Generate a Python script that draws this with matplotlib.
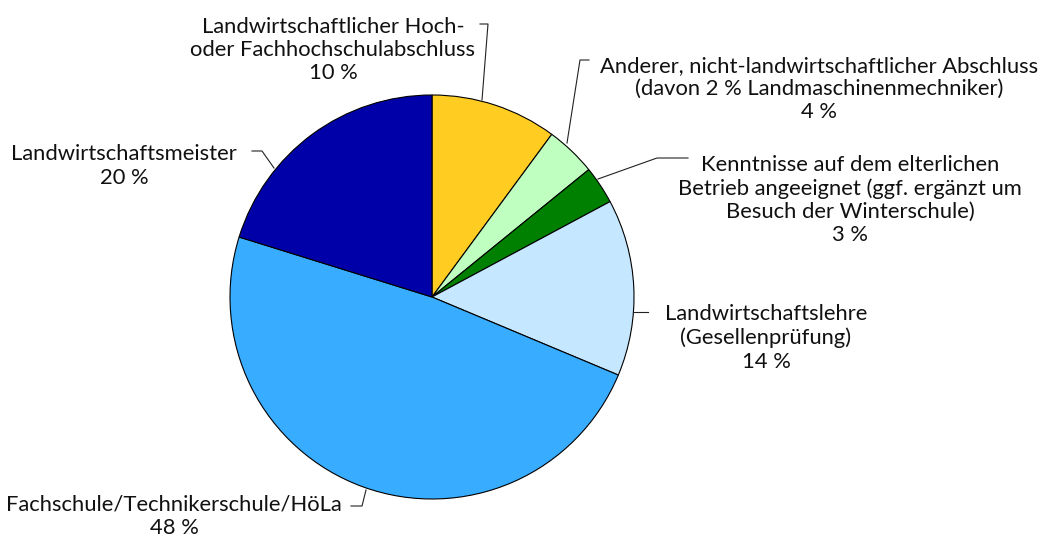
import matplotlib
matplotlib.use("Agg")
import matplotlib.pyplot as plt

# Abschlüsse der Betriebsleiter (Anteile in %)
labels = [
    "Landwirtschaftlicher Hoch-\noder Fachhochschulabschluss",
    "Anderer, nicht-landwirtschaftlicher Abschluss\n(davon 2 % Landmaschinenmechniker)",
    "Kenntnisse auf dem elterlichen\nBetrieb angeeignet (ggf. ergänzt um\nBesuch der Winterschule)",
    "Landwirtschaftslehre\n(Gesellenprüfung)",
    "Fachschule/Technikerschule/HöLa",
    "Landwirtschaftsmeister",
]
values = [10, 4, 3, 14, 48, 20]
colors = ["#FFCC22", "#BFFFBF", "#008000", "#C5E7FF", "#38ACFF", "#0000A8"]

# Beschriftungsposition (Pixel, von oben) und Knickpunkte der Führungslinien
label_pos = [(333, 50), (819, 89), (850, 200), (766, 338), (174, 516), (124, 166)]
leaders = [
    [(482, 100), (488, 24), (480, 24)],
    [(567, 143), (580, 60), (589, 60)],
    [(598, 179), (657, 158), (688, 158)],
    [(633, 312), (648, 312)],
    [(366, 490), (362, 506), (351, 506)],
    [(274, 168), (262, 151), (252, 151)],
]

W, H = 1042, 540
plt.rcParams["font.family"] = ["Lato", "DejaVu Sans"]
fig = plt.figure(figsize=(W / 100, H / 100), dpi=100)
ax = fig.add_axes([0, 0, 1, 1])

ax.pie(values, colors=colors, startangle=90, counterclock=False,
       center=(432, H - 297), radius=202,
       wedgeprops=dict(edgecolor="black", linewidth=0.8))
ax.set_xlim(0, W)
ax.set_ylim(0, H)
ax.set_aspect("auto")
ax.axis("off")

for lab, v, (x, y), pts in zip(labels, values, label_pos, leaders):
    ax.text(x, H - y, f"{lab}\n{v} %", ha="center", va="center", fontsize=15.8,
            linespacing=1.2, color="#111111")
    ax.plot([p[0] for p in pts], [H - p[1] for p in pts], color="#222222", lw=0.8)

fig.savefig("out.png", dpi=100)
